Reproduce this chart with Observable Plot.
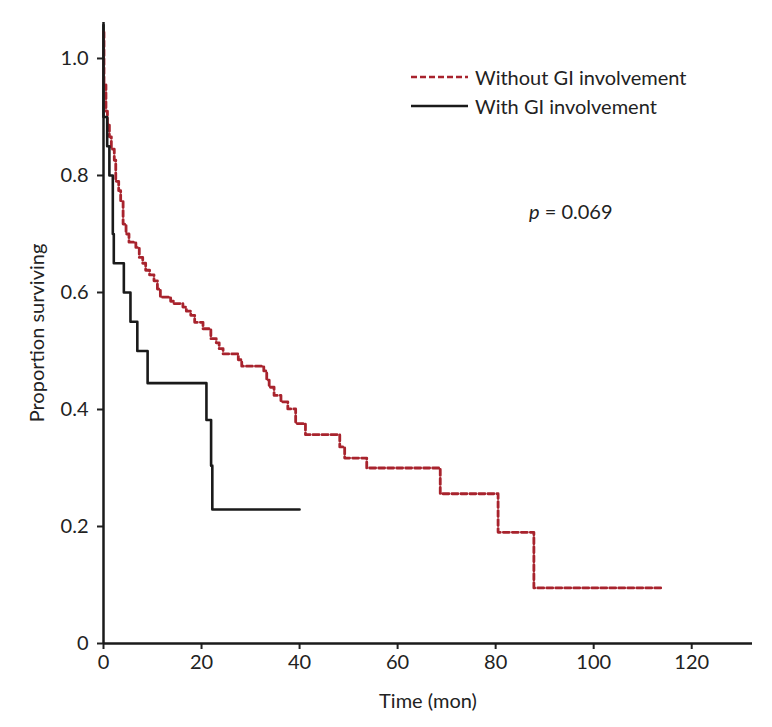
<!DOCTYPE html>
<html>
<head>
<meta charset="utf-8">
<script src="https://cdn.jsdelivr.net/npm/d3@7"></script>
<script src="https://cdn.jsdelivr.net/npm/@observablehq/plot@0.6"></script>
<style>
  body { margin: 0; background: #fff; }
  #wrap { position: relative; width: 772px; height: 727px; font-family: Lato, "Open Sans", sans-serif; color: #222; }
  .leg { position: absolute; left: 411px; font-size: 20px; display: flex; align-items: center; }
  .leg svg { margin-right: 7px; }
  #pval { position: absolute; left: 529px; top: 199px; font-size: 20px; }
</style>
</head>
<body>
<div id="wrap"></div>
<script>
// With GI involvement (time in months, survival proportion after the step)
const timesWith = [0, 0, 0.75, 1.2, 1.9, 2.1, 4.15, 5.5, 6.9, 9.0, 21.0, 21.95, 22.2, 40];
const survWith  = [1.057, 0.90, 0.85, 0.80, 0.70, 0.65, 0.60, 0.55, 0.50, 0.445, 0.382, 0.304, 0.229, 0.229];

// Without GI involvement
const timesWithout = [0, 0.1, 0.5, 0.8, 1.2, 1.6, 2.2, 2.5, 3.1, 3.5, 4.0, 4.6, 5.2, 6.6, 7.3, 8.0, 8.6, 9.4, 10.3, 11.0, 11.6,
  13.7, 14.3, 16.2, 16.9, 17.8, 18.6, 20.3, 21.9, 23.0, 23.6, 24.4, 27.5, 28.2, 32.7, 33.3, 33.8, 34.8, 36.2, 37.6, 39.2,
  41.2, 48.2, 49.2, 53.7, 68.7, 80.5, 87.8, 113.8];
const survWithout = [1.045, 0.955, 0.91, 0.888, 0.866, 0.845, 0.826, 0.79, 0.774, 0.757, 0.717, 0.70, 0.686, 0.677, 0.66, 0.65, 0.638, 0.63, 0.62, 0.606, 0.592,
  0.585, 0.581, 0.575, 0.568, 0.561, 0.549, 0.538, 0.521, 0.514, 0.504, 0.495, 0.485, 0.474, 0.466, 0.45, 0.438, 0.424, 0.413, 0.401, 0.376,
  0.357, 0.336, 0.317, 0.300, 0.256, 0.190, 0.095, 0.095];

const xTicks = [0, 20, 40, 60, 80, 100, 120];
const yTicks = [0, 0.2, 0.4, 0.6, 0.8, 1.0];
const seriesNames = ["Without GI involvement", "With GI involvement"];
const seriesColors = ["#a8232d", "#1a1a1a"];
const pText = "= 0.069";

const withData = timesWith.map((t, i) => ({t, s: survWith[i]}));
const withoutData = timesWithout.map((t, i) => ({t, s: survWithout[i]}));

const chart = Plot.plot({
  width: 772,
  height: 727,
  marginLeft: 103,
  marginRight: 20,
  marginTop: 22,
  marginBottom: 84,
  style: { fontFamily: "Lato, 'Open Sans', sans-serif", fontSize: "20px", color: "#222", background: "#fff" },
  x: { domain: [0, 132.4] },
  y: { domain: [0, 1.0615] },
  marks: [
    Plot.axisX({ ticks: xTicks, tickSize: 6, tickPadding: 5, strokeWidth: 2, label: "Time (mon)", labelArrow: "none", labelAnchor: "center", labelOffset: 64, fontSize: 20, tickFormat: d => String(d) }),
    Plot.axisY({ ticks: yTicks, tickSize: 6, tickPadding: 9, strokeWidth: 2, label: "Proportion surviving", labelArrow: "none", labelAnchor: "center", labelOffset: 74, fontSize: 20, tickFormat: d => d === 0 ? "0" : d.toFixed(1) }),
    Plot.ruleY([0], { stroke: "#1a1a1a", strokeWidth: 2.5 }),
    Plot.ruleX([0], { stroke: "#1a1a1a", strokeWidth: 2.5 }),
    Plot.line(withoutData, { x: "t", y: "s", curve: "step-after", stroke: seriesColors[0], strokeWidth: 2.8, strokeDasharray: "6,3" }),
    Plot.line(withData, { x: "t", y: "s", curve: "step-after", stroke: seriesColors[1], strokeWidth: 2.6 })
  ]
});

const wrap = document.getElementById("wrap");
wrap.appendChild(chart);

const legTops = [65, 94];
seriesNames.forEach((name, i) => {
  const d = document.createElement("div");
  d.className = "leg";
  d.style.top = legTops[i] + "px";
  const dash = i === 0 ? "stroke-dasharray='6,3'" : "";
  d.innerHTML = `<svg width="57" height="6"><line x1="0" y1="3" x2="57" y2="3" stroke="${seriesColors[i]}" stroke-width="2.4" ${dash}/></svg><span>${name}</span>`;
  wrap.appendChild(d);
});

const p = document.createElement("div");
p.id = "pval";
p.innerHTML = `<i>p</i> ${pText}`;
wrap.appendChild(p);
</script>
</body>
</html>
